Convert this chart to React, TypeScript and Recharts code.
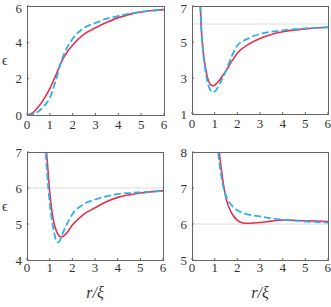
import React from "react";
import { LineChart, Line, XAxis, YAxis, ReferenceLine } from "recharts";

// ── data ─────────────────────────────────────────────────────────────────────

const r1 = [0, 0.25, 0.5, 0.75, 1, 1.25, 1.5, 1.75, 2, 2.5, 3, 3.5, 4, 4.5, 5, 5.5, 6];
const red1 = [0, 0.12, 0.45, 0.9, 1.45, 2.15, 2.9, 3.45, 3.85, 4.45, 4.8, 5.1, 5.36, 5.54, 5.67, 5.75, 5.8];
const blue1 = [0, 0.04, 0.2, 0.5, 0.95, 1.85, 2.95, 3.7, 4.2, 4.8, 5.07, 5.3, 5.45, 5.58, 5.68, 5.75, 5.8];

const r2 = [0.35, 0.4, 0.5, 0.6, 0.7, 0.8, 0.9, 1.0, 1.1, 1.25, 1.5, 1.75, 2, 2.5, 3, 3.5, 4, 5, 6];
const red2 = [7.6, 6.0, 4.4, 3.55, 2.95, 2.65, 2.57, 2.6, 2.72, 2.95, 3.4, 3.92, 4.38, 4.88, 5.2, 5.42, 5.57, 5.73, 5.82];
const blue2 = [7.6, 6.0, 4.3, 3.35, 2.7, 2.35, 2.22, 2.25, 2.4, 2.75, 3.4, 4.2, 4.8, 5.2, 5.45, 5.57, 5.65, 5.76, 5.82];

const r3 = [0.7, 0.8, 0.9, 1.0, 1.1, 1.2, 1.3, 1.4, 1.5, 1.6, 1.75, 2, 2.5, 3, 3.5, 4, 4.5, 5, 6];
const red3 = [8.3, 7.45, 6.7, 5.9, 5.35, 5.0, 4.8, 4.68, 4.64, 4.66, 4.75, 4.97, 5.27, 5.45, 5.62, 5.74, 5.81, 5.86, 5.92];
const blue3 = [7.8, 7.2, 6.3, 5.6, 5.1, 4.75, 4.52, 4.49, 4.62, 4.78, 4.98, 5.27, 5.55, 5.68, 5.77, 5.83, 5.86, 5.88, 5.92];

const r4 = [1.1, 1.2, 1.3, 1.4, 1.5, 1.75, 2, 2.25, 2.5, 3, 3.5, 4, 5, 6];
const red4 = [8.6, 8.0, 7.5, 7.05, 6.72, 6.3, 6.1, 6.03, 6.02, 6.04, 6.08, 6.11, 6.09, 6.07];
const blue4 = [8.25, 7.75, 7.3, 6.98, 6.78, 6.52, 6.38, 6.31, 6.26, 6.21, 6.16, 6.12, 6.07, 6.04];

const xTicks = [0, 1, 2, 3, 4, 5, 6];
const yTicks1 = [0, 1, 2, 3, 4, 5, 6];
const yTicks2 = [1, 2, 3, 4, 5, 6, 7];
const yTicks3 = [4, 5, 6, 7];
const yTicks4 = [5, 6, 7, 8];

const SERIF = "Liberation Serif, serif";
const TEXT = "#333";
const FRAME = "#666";
const RED = "#e8304d";
const BLUE = "#2cb2ea";
const Y_AXIS_W = 27;

function rows(r: number[], red: number[], blue: number[]) {
  return r.map((x, i) => ({ r: x, red: red[i], blue: blue[i] }));
}

type PanelProps = {
  left: number;
  top: number;
  width: number;
  height: number;
  margin: { top: number; right: number; left: number; bottom: number };
  xHeight: number;
  xTickMargin: number;
  data: { r: number; red: number; blue: number }[];
  yTicks: number[];
  refY?: number;
  epsilon?: boolean;
  xLabel?: boolean;
};

function Panel(p: PanelProps) {
  const yDomain = [p.yTicks[0], p.yTicks[p.yTicks.length - 1]];
  const tick = { fontSize: 13, fill: TEXT, fontFamily: SERIF };
  // plot box, for the frame drawn round it
  const boxLeft = p.margin.left + Y_AXIS_W;
  const boxRight = p.width - p.margin.right - 1;
  const boxTop = p.margin.top;
  const boxBottom = p.height - p.margin.bottom - p.xHeight;
  return (
    <div style={{ position: "absolute", left: p.left, top: p.top, width: p.width, height: p.height, fontFamily: SERIF }}>
      <LineChart width={p.width} height={p.height} data={p.data} margin={p.margin}>
        <XAxis
          xAxisId="b"
          dataKey="r"
          type="number"
          domain={[0, 6]}
          ticks={xTicks}
          allowDataOverflow
          height={p.xHeight}
          tick={tick}
          tickSize={-2}
          tickMargin={p.xTickMargin}
          tickLine={{ stroke: FRAME }}
          axisLine={false}
          label={
            p.xLabel
              ? { value: "r/ξ", position: "insideBottom", offset: 9, fontSize: 16, fontStyle: "italic", fill: TEXT, fontFamily: SERIF }
              : undefined
          }
        />
        <YAxis
          yAxisId="l"
          type="number"
          domain={yDomain}
          ticks={p.yTicks}
          allowDataOverflow
          width={Y_AXIS_W}
          tick={tick}
          tickSize={-2}
          tickMargin={7}
          tickLine={{ stroke: FRAME }}
          axisLine={false}
          label={
            p.epsilon
              ? { value: "ϵ", position: "insideLeft", offset: 2, fontSize: 14, fill: TEXT, fontFamily: SERIF }
              : undefined
          }
        />
        <YAxis
          yAxisId="r"
          orientation="right"
          type="number"
          domain={yDomain}
          ticks={p.yTicks}
          width={1}
          tick={false}
          tickSize={-2}
          tickLine={{ stroke: FRAME }}
          axisLine={false}
        />
        {p.refY !== undefined && (
          <ReferenceLine xAxisId="b" yAxisId="l" y={p.refY} stroke="#dcdcdc" strokeWidth={1} />
        )}
        <Line
          xAxisId="b"
          yAxisId="l"
          type="monotone"
          dataKey="red"
          stroke={RED}
          strokeWidth={1.6}
          dot={false}
          isAnimationActive={false}
        />
        <Line
          xAxisId="b"
          yAxisId="l"
          type="monotone"
          dataKey="blue"
          stroke={BLUE}
          strokeWidth={1.8}
          strokeDasharray="7 3"
          dot={false}
          isAnimationActive={false}
        />
      </LineChart>
      {/* frame round the plot box */}
      <div
        style={{
          position: "absolute",
          left: boxLeft,
          top: boxTop,
          width: boxRight - boxLeft + 1,
          height: boxBottom - boxTop + 1,
          boxSizing: "border-box",
          border: `1px solid ${FRAME}`,
          pointerEvents: "none",
        }}
      />
    </div>
  );
}

export default function App() {
  return (
    <div style={{ position: "absolute", left: 0, top: 0, width: 331, height: 307, background: "#fff" }}>
      <Panel
        left={0} top={0} width={170} height={135}
        margin={{ top: 6, right: 5, left: 0, bottom: 0 }}
        xHeight={20} xTickMargin={7}
        data={rows(r1, red1, blue1)} yTicks={yTicks1} epsilon
      />
      <Panel
        left={165} top={0} width={166} height={134}
        margin={{ top: 6, right: 2, left: 0, bottom: 0 }}
        xHeight={20} xTickMargin={7}
        data={rows(r2, red2, blue2)} yTicks={yTicks2} refY={6}
      />
      <Panel
        left={0} top={140} width={170} height={167}
        margin={{ top: 12, right: 6, left: 0, bottom: 0 }}
        xHeight={47} xTickMargin={5}
        data={rows(r3, red3, blue3)} yTicks={yTicks3} refY={6} epsilon xLabel
      />
      <Panel
        left={165} top={140} width={166} height={167}
        margin={{ top: 12, right: 2, left: 0, bottom: 0 }}
        xHeight={47} xTickMargin={5}
        data={rows(r4, red4, blue4)} yTicks={yTicks4} refY={6} xLabel
      />
    </div>
  );
}
